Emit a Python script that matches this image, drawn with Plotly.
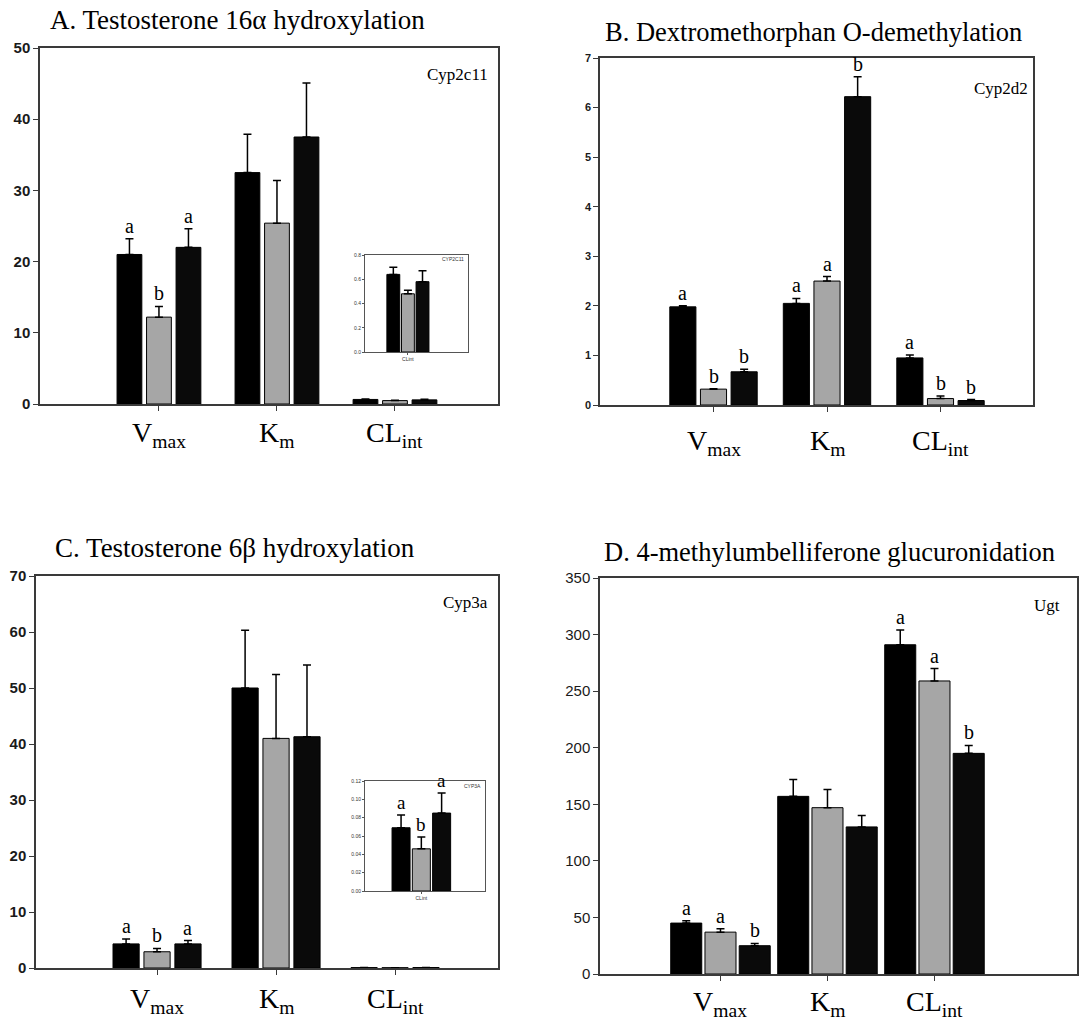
import plotly.graph_objects as go

# ---- shared categories -------------------------------------------------
categories = ["V<sub>max</sub>", "K<sub>m</sub>", "CL<sub>int</sub>"]
cat_pos = [1, 2, 3]

# ---- Panel A: testosterone 16a hydroxylation (Cyp2c11) -----------------
a_title = "A. Testosterone 16\u03b1 hydroxylation"
a_enzyme = "Cyp2c11"
a_g1 = [21.0, 32.5, 0.64]
a_g1_err = [2.2, 5.4, 0.06]
a_g2 = [12.2, 25.4, 0.48]
a_g2_err = [1.5, 6.0, 0.03]
a_g3 = [22.0, 37.5, 0.58]
a_g3_err = [2.6, 7.6, 0.09]
a_letters = [["a", "", ""], ["b", "", ""], ["a", "", ""]]
a_inset_label = "CYP2C11"

# ---- Panel B: dextromethorphan O-demethylation (Cyp2d2) ----------------
b_title = "B. Dextromethorphan O-demethylation"
b_enzyme = "Cyp2d2"
b_g1 = [1.98, 2.05, 0.95]
b_g1_err = [0.02, 0.10, 0.06]
b_g2 = [0.32, 2.50, 0.13]
b_g2_err = [0.01, 0.09, 0.05]
b_g3 = [0.67, 6.22, 0.09]
b_g3_err = [0.05, 0.40, 0.02]
b_letters = [["a", "a", "a"], ["b", "a", "b"], ["b", "b", "b"]]

# ---- Panel C: testosterone 6b hydroxylation (Cyp3a) --------------------
c_title = "C. Testosterone 6\u03b2 hydroxylation"
c_enzyme = "Cyp3a"
c_g1 = [4.3, 50.0, 0.069]
c_g1_err = [0.9, 10.3, 0.014]
c_g2 = [2.9, 41.0, 0.046]
c_g2_err = [0.6, 11.4, 0.013]
c_g3 = [4.3, 41.3, 0.085]
c_g3_err = [0.6, 12.8, 0.022]
c_letters = [["a", "", ""], ["b", "", ""], ["a", "", ""]]
c_inset_letters = ["a", "b", "a"]
c_inset_label = "CYP3A"

# ---- Panel D: 4-methylumbelliferone glucuronidation (Ugt) --------------
d_title = "D. 4-methylumbelliferone glucuronidation"
d_enzyme = "Ugt"
d_g1 = [45.0, 157.0, 291.0]
d_g1_err = [2.0, 15.0, 13.0]
d_g2 = [37.0, 147.0, 259.0]
d_g2_err = [3.0, 16.0, 11.0]
d_g3 = [25.0, 130.0, 195.0]
d_g3_err = [2.0, 10.0, 7.0]
d_letters = [["a", "", "a"], ["a", "", "a"], ["b", "", "b"]]

BLACK = "#000000"
GRAY = "#a6a6a6"
SERIF = "Liberation Serif, Times New Roman, serif"
SANS = "Liberation Sans, Arial, sans-serif"

W, H = 1086, 1023

fig = go.Figure()


def add_group(xa, ya, xs, groups, errs, colors, width, step, letters=None, letter_size=20):
    """Three side-by-side bars per category with upper error bars."""
    n = len(groups)
    for i, (vals, err, col) in enumerate(zip(groups, errs, colors)):
        shift = (i - (n - 1) / 2) * step
        fig.add_trace(go.Bar(
            x=xs, y=vals, xaxis=xa, yaxis=ya,
            width=width, offset=shift - width / 2,
            marker=dict(color=col, line=dict(color=BLACK, width=1)),
            error_y=dict(type="data", symmetric=False, array=err,
                         arrayminus=[0] * len(err), color=BLACK,
                         thickness=1.5, width=4),
            showlegend=False, hoverinfo="skip",
        ))
        if letters is not None:
            for x, v, e, t in zip(xs, vals, err, letters[i]):
                if t:
                    fig.add_annotation(
                        x=x + shift, y=v + e, xref=xa, yref=ya,
                        text=t, showarrow=False, yanchor="bottom", yshift=0,
                        font=dict(family=SERIF, size=letter_size, color=BLACK))


colors = [BLACK, GRAY, "#0a0a0a"]

# main panels
add_group("x", "y", cat_pos, [a_g1, a_g2, a_g3], [a_g1_err, a_g2_err, a_g3_err],
          colors, 0.21, 0.25, a_letters)
add_group("x2", "y2", cat_pos, [b_g1, b_g2, b_g3], [b_g1_err, b_g2_err, b_g3_err],
          colors, 0.23, 0.27, b_letters)
add_group("x3", "y3", cat_pos, [c_g1, c_g2, c_g3], [c_g1_err, c_g2_err, c_g3_err],
          colors, 0.22, 0.26, c_letters)
add_group("x4", "y4", cat_pos, [d_g1, d_g2, d_g3], [d_g1_err, d_g2_err, d_g3_err],
          colors, 0.29, 0.32, d_letters)

# insets: CLint only
add_group("x5", "y5", [1], [[a_g1[2]], [a_g2[2]], [a_g3[2]]],
          [[a_g1_err[2]], [a_g2_err[2]], [a_g3_err[2]]], colors, 0.30, 0.34)
add_group("x6", "y6", [1], [[c_g1[2]], [c_g2[2]], [c_g3[2]]],
          [[c_g1_err[2]], [c_g2_err[2]], [c_g3_err[2]]], colors, 0.32, 0.36,
          [[c_inset_letters[0]], [c_inset_letters[1]], [c_inset_letters[2]]], 19)


def dom_x(a, b):
    return [a / W, b / W]


def dom_y(top, bottom):
    return [1 - bottom / H, 1 - top / H]


def main_x(domain, rng, anchor):
    return dict(domain=domain, range=rng, anchor=anchor,
                tickvals=cat_pos, showticklabels=False,
                showline=True, mirror=True, linecolor="#3a3a3a", linewidth=1.5,
                ticks="outside", ticklen=5, tickcolor="#3a3a3a",
                showgrid=False, zeroline=False, fixedrange=True, automargin=False)


def main_y(domain, rng, dtick, anchor, size=15, weight="bold"):
    return dict(domain=domain, range=rng, anchor=anchor, dtick=dtick,
                showline=True, mirror=True, linecolor="#3a3a3a", linewidth=1.5,
                ticks="outside", ticklen=5, tickcolor="#3a3a3a",
                tickfont=dict(family=SANS, size=size, color="#1a1a1a", weight=weight),
                showgrid=False, zeroline=False, fixedrange=True, automargin=False)


def inset_x(domain, rng, anchor):
    return dict(domain=domain, range=rng, anchor=anchor,
                tickvals=[1], ticktext=["CLint"],
                showline=True, mirror=True, linecolor="#555555", linewidth=1,
                ticks="outside", ticklen=2, tickcolor="#555555",
                tickfont=dict(family=SANS, size=5, color="#333333"),
                showgrid=False, zeroline=False, fixedrange=True, automargin=False)


def inset_y(domain, rng, dtick, fmt, anchor):
    return dict(domain=domain, range=rng, anchor=anchor, dtick=dtick,
                tickformat=fmt,
                showline=True, mirror=True, linecolor="#555555", linewidth=1,
                ticks="outside", ticklen=2, tickcolor="#555555",
                tickfont=dict(family=SANS, size=5, color="#333333"),
                showgrid=False, zeroline=False, fixedrange=True, automargin=False)


fig.update_layout(
    width=W, height=H,
    margin=dict(l=0, r=0, t=0, b=0, autoexpand=False),
    paper_bgcolor="white", plot_bgcolor="white",
    barmode="overlay",
    xaxis=main_x(dom_x(40, 498), [-0.008, 3.873], "y"),
    yaxis=main_y(dom_y(48, 404), [0, 50], 10, "x"),
    xaxis2=main_x(dom_x(600, 1033), [0, 3.815], "y2"),
    yaxis2=main_y(dom_y(58, 405), [0, 7], 1, "x2", size=11),
    xaxis3=main_x(dom_x(36, 498), [-0.017, 3.865], "y3"),
    yaxis3=main_y(dom_y(576, 968), [0, 70], 10, "x3"),
    xaxis4=main_x(dom_x(600, 1077), [-0.126, 4.332], "y4"),
    yaxis4=main_y(dom_y(578, 974), [0, 350], 50, "x4", size=15, weight="normal"),
    xaxis5=inset_x(dom_x(365, 468), [0, 2.4], "y5"),
    yaxis5=inset_y(dom_y(255, 352), [0, 0.8], 0.2, ".1f", "x5"),
    xaxis6=inset_x(dom_x(365, 485), [0, 2.13], "y6"),
    yaxis6=inset_y(dom_y(781, 891), [0, 0.12], 0.02, ".2f", "x6"),
)

# category labels under each main panel
label_rows = [("x", 434), ("x2", 442), ("x3", 1000), ("x4", 1003)]
for xa, py in label_rows:
    for pos, text in zip(cat_pos, categories):
        fig.add_annotation(x=pos, y=1 - py / H, xref=xa, yref="paper",
                           text=text, showarrow=False, yanchor="middle",
                           font=dict(family=SERIF, size=28, color=BLACK))

# panel titles
titles = [
    (a_title, 48, 20, 27),
    (b_title, 603, 32, 26.5),
    (c_title, 53, 548, 27),
    (d_title, 602, 552, 26.5),
]
for text, px, py, fs in titles:
    fig.add_annotation(x=px / W, y=1 - py / H, xref="paper", yref="paper",
                       text=text, showarrow=False, xanchor="left", yanchor="middle",
                       font=dict(family=SERIF, size=fs, color=BLACK))

# enzyme labels inside each panel
enzymes = [
    (a_enzyme, 490, 74),
    (b_enzyme, 1030, 88),
    (c_enzyme, 490, 602),
    (d_enzyme, 1062, 605),
]
for text, px, py in enzymes:
    fig.add_annotation(x=px / W, y=1 - py / H, xref="paper", yref="paper",
                       text=text, showarrow=False, xanchor="right", yanchor="middle",
                       font=dict(family=SERIF, size=17, color=BLACK))

# tiny inset labels
for text, px, py in [(a_inset_label, 466, 259), (c_inset_label, 483, 786)]:
    fig.add_annotation(x=px / W, y=1 - py / H, xref="paper", yref="paper",
                       text=text, showarrow=False, xanchor="right", yanchor="middle",
                       font=dict(family=SANS, size=5, color="#333333"))

fig.write_html("out.html")
